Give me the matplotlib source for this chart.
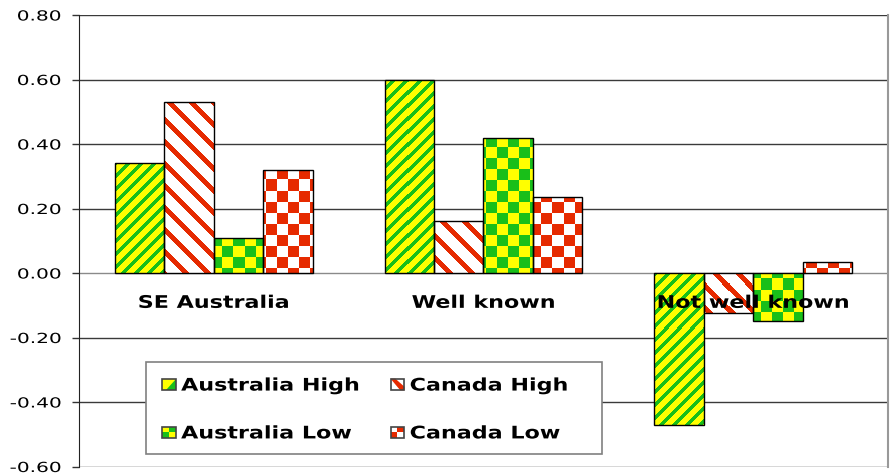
import numpy as np
import matplotlib
matplotlib.use("Agg")
import matplotlib.pyplot as plt
from matplotlib.patches import Rectangle, Polygon
from matplotlib.legend_handler import HandlerBase
from matplotlib.patheffects import AbstractPathEffect
from matplotlib.transforms import Affine2D

# data
categories = ["SE Australia", "Well known", "Not well known"]
series_names = ["Australia High", "Canada High", "Australia Low", "Canada Low"]
aus_high = [0.34, 0.60, -0.47]
can_high = [0.53, 0.16, -0.125]
aus_low = [0.11, 0.42, -0.15]
can_low = [0.32, 0.235, 0.035]
yticks = [-0.6, -0.4, -0.2, 0.0, 0.2, 0.4, 0.6, 0.8]

YELLOW = "#FFFF00"
GREEN = "#19BF19"
RED = "#E62A00"
WHITE = "#FFFFFF"


class HStretch(AbstractPathEffect):
    """Widen glyphs horizontally (Verdana-like wide lettering)."""

    def __init__(self, sx, anchor="center"):
        super().__init__()
        self.sx = sx
        self.anchor = anchor

    def draw_path(self, renderer, gc, tpath, affine, rgbFace=None):
        ext = tpath.get_extents()
        cx = {"left": 0.0, "right": ext.x1, "center": 0.5 * (ext.x0 + ext.x1)}[self.anchor]
        t = Affine2D().translate(-cx, 0).scale(self.sx, 1).translate(cx, 0) + affine
        renderer.draw_path(gc, tpath, t, rgbFace)


W, H = 890, 477
fig = plt.figure(figsize=(W / 100, H / 100), dpi=100)
ax_l, ax_b, ax_w, ax_h = 79, 9.5, 809, 451.5
ax = fig.add_axes([ax_l / W, ax_b / H, ax_w / W, ax_h / H])

xlim = (-0.5, 2.5)
ylim = (-0.6, 0.8)

# pixel patterns filling the plot area, clipped to each bar later
pw, ph = int(ax_w), int(ax_h)
yy, xx = np.mgrid[0:ph, 0:pw]


def fill(mask, c_on, c_off):
    on = np.array(matplotlib.colors.to_rgb(c_on))
    off = np.array(matplotlib.colors.to_rgb(c_off))
    return np.where(mask[..., None], on, off)


patterns = [
    fill((xx + yy) % 13 < 5, GREEN, YELLOW),                   # / stripes
    fill((xx - yy) % 22 < 7, RED, WHITE),                      # \ stripes
    fill(((xx // 11) + (yy // 11)) % 2 == 0, GREEN, YELLOW),   # checks
    fill(((xx // 11) + (yy // 11)) % 2 == 0, RED, WHITE),      # checks
]

series = [aus_high, can_high, aus_low, can_low]
x = np.arange(len(categories))
bw = 0.183
offsets = (np.arange(4) - 1.5) * bw

for vals, off, pat in zip(series, offsets, patterns):
    bars = ax.bar(x + off, vals, width=bw, facecolor="none",
                  edgecolor="black", linewidth=1.0, zorder=4)
    for b in bars:
        im = ax.imshow(pat, extent=(xlim[0], xlim[1], ylim[0], ylim[1]),
                       origin="upper", aspect="auto", interpolation="nearest",
                       zorder=3)
        im.set_clip_path(b)

ax.set_xlim(*xlim)
ax.set_ylim(*ylim)

# grid + axes styling
for v in yticks:
    ax.axhline(v, color="#3a3a3a" if v != 0 else "#8a8a8a", lw=1.0, zorder=1)
ax.set_yticks(yticks)
ax.set_yticklabels([f"{v:.2f}" for v in yticks], fontsize=10)
ax.tick_params(axis="y", direction="out", length=5, width=1, color="#333333", pad=8)
for t in ax.get_yticklabels():
    t.set_path_effects([HStretch(1.45, "right")])
ax.set_xticks([])
for s in ["top", "bottom"]:
    ax.spines[s].set_visible(False)
ax.spines["left"].set_color("#222222")
ax.spines["right"].set_color("#999999")
ax.spines["right"].set_linewidth(1.5)

for i, name in enumerate(categories):
    ax.annotate(name, (i, 0), xytext=(0, -15), textcoords="offset points",
                ha="center", va="top", fontsize=12.5, fontweight="bold", zorder=6,
                path_effects=[HStretch(1.28, "center")])


# small legend icons drawn from plain patches
class IconHandler(HandlerBase):
    def __init__(self, kind, c1, c2):
        super().__init__()
        self.kind, self.c1, self.c2 = kind, c1, c2

    def create_artists(self, legend, orig_handle, xd, yd, width, height, fontsize, trans):
        x0, y0 = -xd, -yd
        arts = [Rectangle((x0, y0), width, height, facecolor=self.c2, edgecolor="none",
                          transform=trans)]
        if self.kind == "up":
            arts.append(Polygon([(x0 + 0.3 * width, y0), (x0 + width, y0),
                                 (x0 + width, y0 + 0.95 * height)],
                                facecolor=self.c1, edgecolor="none", transform=trans))
        elif self.kind == "down":
            arts.append(Polygon([(x0, y0 + height), (x0 + 0.35 * width, y0 + height),
                                 (x0 + width, y0 + 0.3 * height), (x0 + width, y0),
                                 (x0 + 0.7 * width, y0)],
                                facecolor=self.c1, edgecolor="none", transform=trans))
        else:
            arts.append(Rectangle((x0 + width / 2, y0 + height / 2), width / 2, height / 2,
                                  facecolor=self.c1, edgecolor="none", transform=trans))
            arts.append(Rectangle((x0, y0), width / 2, height / 2,
                                  facecolor=self.c1, edgecolor="none", transform=trans))
        arts.append(Rectangle((x0, y0), width, height, facecolor="none",
                              edgecolor="#444444", lw=1.2, transform=trans))
        return arts


handlers = [IconHandler("up", GREEN, YELLOW), IconHandler("down", RED, WHITE),
            IconHandler("check", GREEN, YELLOW), IconHandler("check", RED, WHITE)]
proxies = [Rectangle((0, 0), 1, 1) for _ in series_names]
# column-major order so each row reads Australia / Canada
order = [0, 2, 1, 3]

# legend box drawn separately so its size is independent of the entries
frame = Rectangle(((146 - ax_l) / ax_w, (477 - 455 - ax_b) / ax_h),
                  (602 - 146) / ax_w, (455 - 363) / ax_h, transform=ax.transAxes,
                  facecolor="white", edgecolor="#808080", lw=1.2, zorder=7)
ax.add_patch(frame)

leg = ax.legend([proxies[i] for i in order], [series_names[i] for i in order],
                ncol=2, loc="center left",
                bbox_to_anchor=((162 - ax_l) / ax_w, (477 - 410.5 - ax_b) / ax_h),
                borderaxespad=0, borderpad=0, frameon=False,
                handler_map={p: h for p, h in zip(proxies, handlers)},
                prop={"size": 12.5, "weight": "bold"},
                handlelength=0.8, handleheight=0.65, handletextpad=0.3,
                labelspacing=1.72, columnspacing=4.0)
leg.set_zorder(8)
for t in leg.get_texts():
    t.set_path_effects([HStretch(1.28, "left")])

fig.savefig("out.png", dpi=100)
